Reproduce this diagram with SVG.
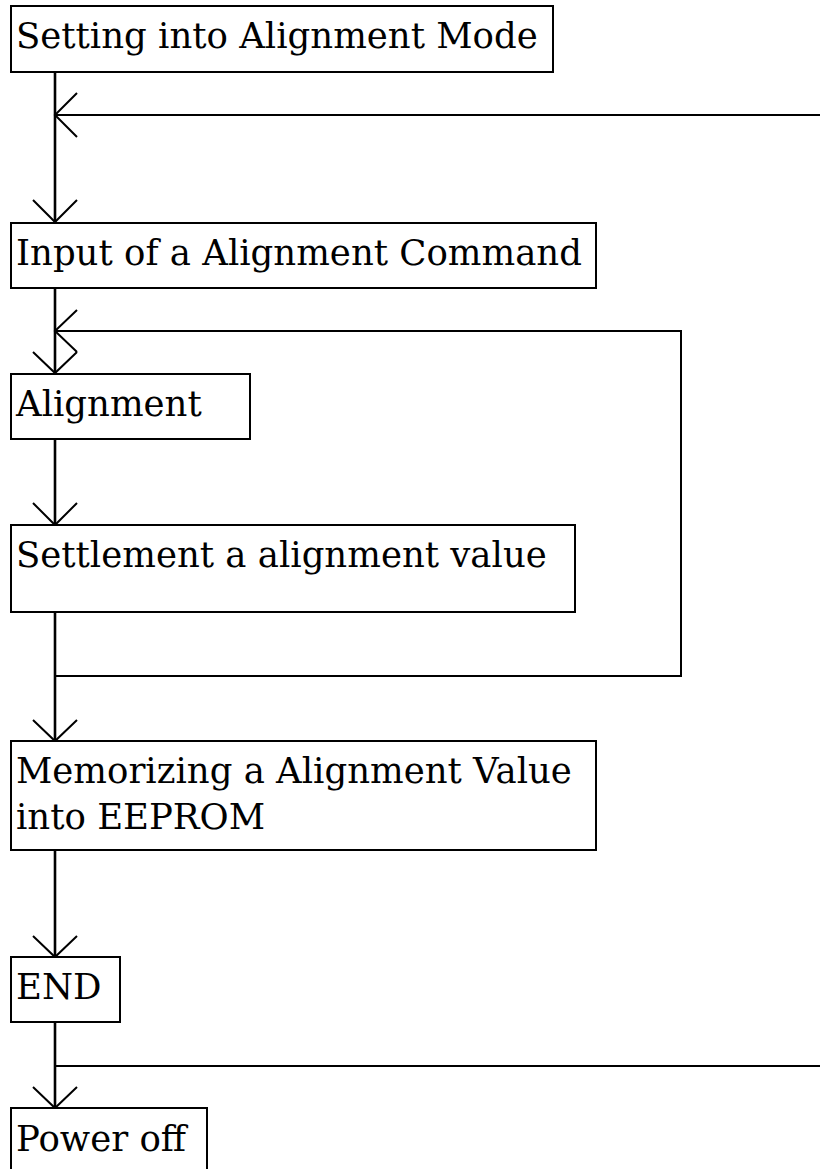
<svg xmlns="http://www.w3.org/2000/svg" width="820" height="1169" viewBox="0 0 820 1169">
<style>
.box{fill:#fff;stroke:#000;stroke-width:2}
.t{font-family:"DejaVu Serif",serif;font-size:35.5px;fill:#000}
.c{fill:none;stroke:#000;stroke-width:2}
.v{fill:none;stroke:#000;stroke-width:2.6}
</style>
<rect width="820" height="1169" fill="#fff"/>
<g id="connectors">
<path class="v" d="M55,72 V222"/>
<path class="c" d="M33,200 L55,222 L77,200"/>
<path class="c" d="M820,115 H55"/>
<path class="c" d="M77,93 L55,115 L77,137"/>
<path class="v" d="M55,288 V373"/>
<path class="c" d="M33,352 L55,373 L77,352"/>
<path class="c" d="M55,676 H681 V331 H55"/>
<path class="c" d="M77,310 L55,331 L77,352"/>
<path class="v" d="M55,439 V525"/>
<path class="c" d="M33,503 L55,525 L77,503"/>
<path class="v" d="M55,612 V741"/>
<path class="c" d="M33,720 L55,741 L77,720"/>
<path class="v" d="M55,850 V957"/>
<path class="c" d="M33,936 L55,957 L77,936"/>
<path class="v" d="M55,1022 V1108"/>
<path class="c" d="M55,1066 H820"/>
<path class="c" d="M33,1087 L55,1108 L77,1087"/>
</g>
<g id="n1"><rect class="box" x="11" y="6" width="542" height="66"/><text class="t" x="16" y="48">Setting into Alignment Mode</text></g>
<g id="n2"><rect class="box" x="11" y="223" width="585" height="65"/><text class="t" x="16" y="265">Input of a Alignment Command</text></g>
<g id="n3"><rect class="box" x="11" y="374" width="239" height="65"/><text class="t" x="16" y="416">Alignment</text></g>
<g id="n4"><rect class="box" x="11" y="525" width="564" height="87"/><text class="t" x="16" y="567">Settlement a alignment value</text></g>
<g id="n5"><rect class="box" x="11" y="741" width="585" height="109"/><text class="t" x="16" y="783">Memorizing a Alignment Value</text><text class="t" x="16" y="829">into EEPROM</text></g>
<g id="n6"><rect class="box" x="11" y="957" width="109" height="65"/><text class="t" x="16" y="999">END</text></g>
<g id="n7"><rect class="box" x="11" y="1108" width="196" height="70"/><text class="t" x="16" y="1151">Power off</text></g>
</svg>
